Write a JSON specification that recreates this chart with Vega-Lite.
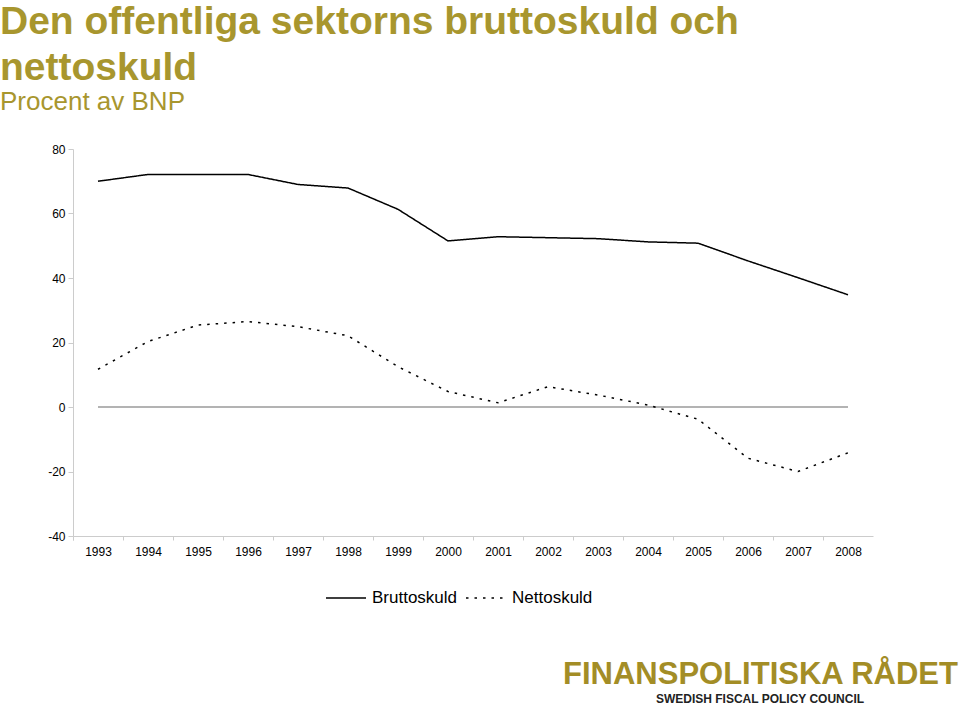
{
  "$schema": "https://vega.github.io/schema/vega-lite/v6.json",
  "width": 800,
  "height": 387,
  "autosize": {"type": "none"},
  "padding": {"left": 73, "top": 149, "right": 87, "bottom": 169},
  "background": "white",
  "config": {
    "font": "Liberation Sans",
    "view": {"stroke": null}
  },
  "title": {
    "text": ["Den offentliga sektorns bruttoskuld och", "nettoskuld"],
    "subtitle": "Procent av BNP",
    "anchor": "start",
    "frame": "group",
    "dx": -73,
    "offset": 28,
    "font": "Liberation Sans",
    "fontSize": 39,
    "fontWeight": "bold",
    "lineHeight": 46,
    "color": "#A8962E",
    "subtitleFont": "Liberation Sans",
    "subtitleFontSize": 26,
    "subtitleColor": "#A8962E",
    "subtitlePadding": 1
  },
  "datasets": {
    "debt": [
      {"year": "1993", "serie": "Bruttoskuld", "value": 70.0},
      {"year": "1994", "serie": "Bruttoskuld", "value": 72.1},
      {"year": "1995", "serie": "Bruttoskuld", "value": 72.1},
      {"year": "1996", "serie": "Bruttoskuld", "value": 72.1},
      {"year": "1997", "serie": "Bruttoskuld", "value": 69.0},
      {"year": "1998", "serie": "Bruttoskuld", "value": 67.9},
      {"year": "1999", "serie": "Bruttoskuld", "value": 61.3},
      {"year": "2000", "serie": "Bruttoskuld", "value": 51.5},
      {"year": "2001", "serie": "Bruttoskuld", "value": 52.8},
      {"year": "2002", "serie": "Bruttoskuld", "value": 52.5},
      {"year": "2003", "serie": "Bruttoskuld", "value": 52.2},
      {"year": "2004", "serie": "Bruttoskuld", "value": 51.2},
      {"year": "2005", "serie": "Bruttoskuld", "value": 50.8},
      {"year": "2006", "serie": "Bruttoskuld", "value": 45.3},
      {"year": "2007", "serie": "Bruttoskuld", "value": 40.1},
      {"year": "2008", "serie": "Bruttoskuld", "value": 34.8},
      {"year": "1993", "serie": "Nettoskuld", "value": 11.7},
      {"year": "1994", "serie": "Nettoskuld", "value": 20.3},
      {"year": "1995", "serie": "Nettoskuld", "value": 25.4},
      {"year": "1996", "serie": "Nettoskuld", "value": 26.5},
      {"year": "1997", "serie": "Nettoskuld", "value": 24.9},
      {"year": "1998", "serie": "Nettoskuld", "value": 22.1},
      {"year": "1999", "serie": "Nettoskuld", "value": 12.5},
      {"year": "2000", "serie": "Nettoskuld", "value": 4.8},
      {"year": "2001", "serie": "Nettoskuld", "value": 1.3},
      {"year": "2002", "serie": "Nettoskuld", "value": 6.3},
      {"year": "2003", "serie": "Nettoskuld", "value": 3.7},
      {"year": "2004", "serie": "Nettoskuld", "value": 0.6},
      {"year": "2005", "serie": "Nettoskuld", "value": -3.8},
      {"year": "2006", "serie": "Nettoskuld", "value": -15.9},
      {"year": "2007", "serie": "Nettoskuld", "value": -20.0},
      {"year": "2008", "serie": "Nettoskuld", "value": -14.2}
    ],
    "logo1": [{"t": "FINANSPOLITISKA RÅDET"}],
    "logo2": [{"t": "SWEDISH FISCAL POLICY COUNCIL"}]
  },
  "layer": [
    {
      "data": {"name": "debt"},
      "transform": [{"filter": "datum.serie === 'Bruttoskuld'"}],
      "mark": {"type": "line", "color": "#b3b3b3", "strokeWidth": 2},
      "encoding": {
        "x": {"field": "year", "type": "ordinal"},
        "y": {"datum": 0}
      }
    },
    {
      "data": {"name": "debt"},
      "mark": {"type": "line", "color": "black", "strokeWidth": 1.5},
      "encoding": {
        "x": {
          "field": "year",
          "type": "ordinal",
          "scale": {"paddingInner": 0, "paddingOuter": 0},
          "axis": {
            "title": null,
            "tickOffset": -25,
            "labelOffset": 25,
            "tickExtra": true,
            "labelAngle": 0,
            "labelAlign": "center",
            "labelFontSize": 12,
            "labelColor": "black",
            "labelPadding": 11,
            "domainColor": "#cccccc",
            "tickColor": "#cccccc",
            "tickSize": 4
          }
        },
        "y": {
          "field": "value",
          "type": "quantitative",
          "scale": {"domain": [-40, 80], "nice": false},
          "axis": {
            "title": null,
            "values": [-40, -20, 0, 20, 40, 60, 80],
            "labelExpr": "replace(datum.label, '−', '-')",
            "grid": false,
            "labelFontSize": 12,
            "labelColor": "black",
            "labelPadding": 3,
            "domainColor": "#cccccc",
            "tickColor": "#cccccc",
            "tickSize": 5
          }
        },
        "strokeDash": {
          "field": "serie",
          "type": "nominal",
          "scale": {"domain": ["Bruttoskuld", "Nettoskuld"], "range": [[1, 0], [2.5, 6]]},
          "legend": {
            "title": null,
            "orient": "none",
            "direction": "horizontal",
            "legendX": 252,
            "legendY": 428,
            "symbolType": "stroke",
            "symbolSize": 1600,
            "symbolStrokeWidth": 1.5,
            "symbolStrokeColor": "black",
            "labelFontSize": 17,
            "labelColor": "black",
            "labelOffset": 5,
            "columnPadding": 5
          }
        }
      }
    },
    {
      "data": {"name": "logo1"},
      "mark": {"type": "text", "align": "left", "baseline": "alphabetic", "fontSize": 31, "fontWeight": "bold", "color": "#A38D26", "font": "Liberation Sans"},
      "encoding": {
        "text": {"field": "t"},
        "x": {"value": 490},
        "y": {"value": 535}
      }
    },
    {
      "data": {"name": "logo2"},
      "mark": {"type": "text", "align": "center", "baseline": "alphabetic", "fontSize": 12, "fontWeight": "bold", "color": "#222222", "font": "Liberation Sans"},
      "encoding": {
        "text": {"field": "t"},
        "x": {"value": 687},
        "y": {"value": 554}
      }
    }
  ]
}
